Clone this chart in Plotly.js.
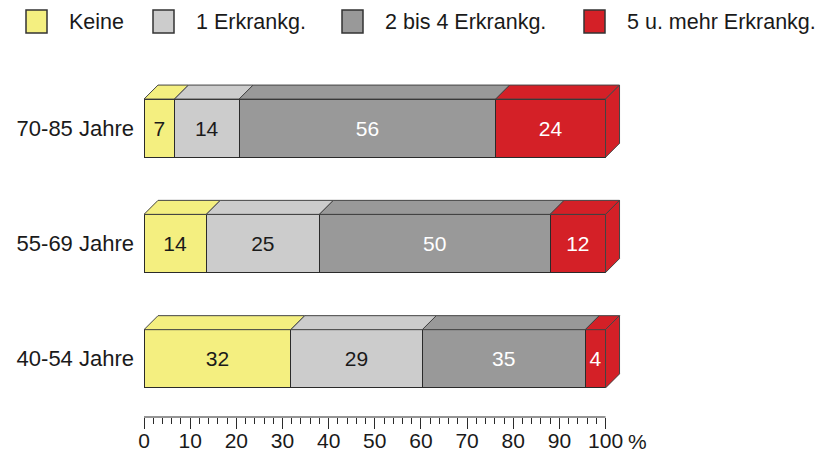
<!DOCTYPE html>
<html>
<head>
<meta charset="utf-8">
<script src="https://cdn.plot.ly/plotly-3.0.1.min.js"></script>
<style>html,body{margin:0;padding:0;background:#fff;}#chart{width:820px;height:457px;}</style>
</head>
<body>
<div id="chart"></div>
<script>
// ---- data ----
const categories = ['70-85 Jahre', '55-69 Jahre', '40-54 Jahre'];
const seriesNames = ['Keine', '1 Erkrankg.', '2 bis 4 Erkrankg.', '5 u. mehr Erkrankg.'];
// bar lengths (%) as drawn, per category (same order as categories)
const keine      = [6.6, 13.5, 31.8];
const eins       = [14.0, 24.5, 28.5];
const zweiBisVier = [55.6, 50.0, 35.3];
const fuenfPlus  = [23.8, 12.0, 4.4];
// printed labels
const keineLbl = [7, 14, 32];
const einsLbl = [14, 25, 29];
const zweiLbl = [56, 50, 35];
const fuenfLbl = [24, 12, 4];
const xTickVals = [0, 10, 20, 30, 40, 50, 60, 70, 80, 90, 100];

// ---- styles ----
const colors = ['#F4EF80', '#CCCCCC', '#999999', '#D42027'];
const textColors = ['#1a1a1a', '#1a1a1a', '#ffffff', '#ffffff'];
const FONT = 'Liberation Sans, Arial, Helvetica, sans-serif';
const W = 820, H = 457;
const M = {l: 144, r: 196, t: 59, b: 40};
const PW = W - M.l - M.r, PH = H - M.t - M.b;
const XR = [0, 104];
const YR = [-0.505, 2.6];
const barW = 0.505;
const depthPx = 14;
const dx = depthPx * (XR[1] - XR[0]) / PW;
const dy = depthPx * (YR[1] - YR[0]) / PH;

const values = [keine, eins, zweiBisVier, fuenfPlus];
const labels = [keineLbl, einsLbl, zweiLbl, fuenfLbl];
const yPos = categories.map((c, i) => categories.length - 1 - i);

const traces = values.map((v, s) => ({
  type: 'bar', orientation: 'h', name: seriesNames[s],
  x: v, y: yPos, width: barW,
  marker: {color: colors[s], line: {color: '#2a2a2a', width: 1}},
  text: labels[s].map(String), textposition: 'inside', insidetextanchor: 'middle',
  textangle: 0, constraintext: 'none',
  textfont: {family: FONT, size: 21, color: textColors[s]},
  hoverinfo: 'skip', showlegend: false
}));

// 3D faces computed from data
const shapes = [];
yPos.forEach((yc, i) => {
  const yt = yc + barW / 2, yb = yc - barW / 2;
  let x0 = 0;
  values.forEach((v, s) => {
    const x1 = x0 + v[i];
    shapes.push({type: 'path', xref: 'x', yref: 'y', layer: 'above',
      path: `M${x0},${yt} L${x0 + dx},${yt + dy} L${x1 + dx},${yt + dy} L${x1},${yt} Z`,
      fillcolor: colors[s], line: {color: '#444', width: 1}});
    if (s === values.length - 1) {
      shapes.push({type: 'path', xref: 'x', yref: 'y', layer: 'above',
        path: `M${x1},${yt} L${x1 + dx},${yt + dy} L${x1 + dx},${yb + dy} L${x1},${yb} Z`,
        fillcolor: colors[s], line: {color: '#444', width: 1}});
    }
    x0 = x1;
  });
});

// x axis line from 0 to 100
const xToPaper = x => (x - XR[0]) / (XR[1] - XR[0]);
shapes.push({type: 'line', xref: 'paper', yref: 'paper', x0: xToPaper(0), x1: xToPaper(100), y0: 0, y1: 0,
  line: {color: '#2a2a2a', width: 1}});

// manual legend
const pxX = px => (px - M.l) / PW;
const pxY = py => (H - M.b - py) / PH;
const legBoxX = [26, 153, 342, 584];
const annotations = [];
seriesNames.forEach((n, s) => {
  shapes.push({type: 'rect', xref: 'paper', yref: 'paper',
    x0: pxX(legBoxX[s]), x1: pxX(legBoxX[s] + 21), y0: pxY(33), y1: pxY(10),
    fillcolor: colors[s], line: {color: '#333', width: 1.5}});
  annotations.push({xref: 'paper', yref: 'paper', x: pxX(legBoxX[s] + 41), y: pxY(22),
    xanchor: 'left', yanchor: 'middle', showarrow: false, text: n,
    font: {family: FONT, size: 21.5, color: '#1a1a1a'}});
});
annotations.push({xref: 'x', yref: 'paper', x: 100, y: 0, xanchor: 'left', yanchor: 'middle',
  xshift: 20, yshift: -24, showarrow: false, text: '%',
  font: {family: FONT, size: 21, color: '#1a1a1a'}});

const minorVals = [];
for (let t = 0; t <= 100; t += 2) if (t % 10 !== 0) minorVals.push(t);

const layout = {
  width: W, height: H, margin: M,
  paper_bgcolor: '#fff', plot_bgcolor: '#fff',
  barmode: 'stack', showlegend: false,
  font: {family: FONT, size: 21, color: '#1a1a1a'},
  uniformtext: {mode: 'show', minsize: 21},
  xaxis: {range: XR, showgrid: false, zeroline: false, showline: false,
    tickmode: 'array', tickvals: xTickVals, ticks: 'outside', ticklen: 11, tickwidth: 1, tickcolor: '#2a2a2a',
    ticklabelstandoff: -6,
    tickfont: {family: FONT, size: 21, color: '#1a1a1a'},
    minor: {tickmode: 'array', tickvals: minorVals, ticks: 'outside', ticklen: 6, tickwidth: 1, tickcolor: '#2a2a2a', showgrid: false},
    fixedrange: true},
  yaxis: {range: YR, showgrid: false, zeroline: false, showline: false,
    tickmode: 'array', tickvals: yPos, ticktext: categories, ticks: '', ticklabelstandoff: 9,
    tickfont: {family: FONT, size: 22, color: '#1a1a1a'}, fixedrange: true},
  shapes: shapes, annotations: annotations, hovermode: false
};

Plotly.newPlot('chart', traces, layout, {displayModeBar: false, staticPlot: true});
</script>
</body>
</html>
